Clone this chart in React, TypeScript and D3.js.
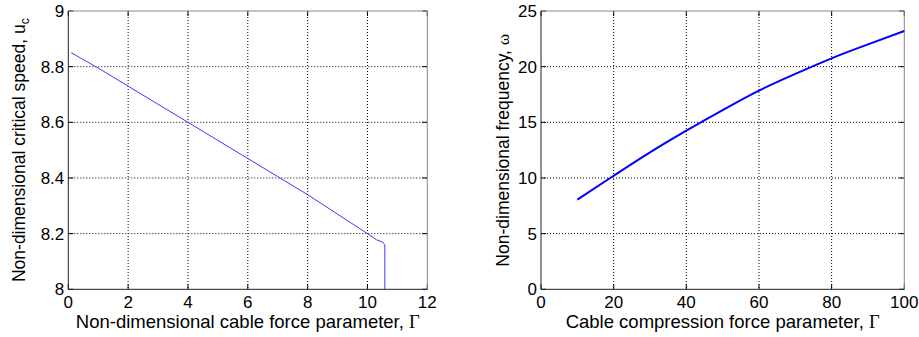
import React from 'react';
import * as d3 from 'd3';

// left panel: critical speed vs cable force
const gammaLeft = [0.1, 1, 2, 3, 4, 5, 6, 7, 8, 9, 10, 10.3, 10.5, 10.58, 10.58];
const speedLeft = [8.85, 8.795, 8.73, 8.665, 8.6, 8.535, 8.47, 8.405, 8.34, 8.27, 8.2, 8.178, 8.17, 8.16, 8.0];

// right panel: frequency vs compression force
const gammaRight = [10, 20, 30, 40, 50, 60, 70, 80, 90, 100];
const freqRight = [8.05, 10.2, 12.3, 14.25, 16.1, 17.85, 19.35, 20.75, 22.0, 23.2];

const leftXTicks = [0, 2, 4, 6, 8, 10, 12];
const leftYTicks = [8, 8.2, 8.4, 8.6, 8.8, 9];
const rightXTicks = [0, 20, 40, 60, 80, 100];
const rightYTicks = [0, 5, 10, 15, 20, 25];

const FONT = 'Liberation Sans, Arial, sans-serif';

type PanelProps = {
  left: number;
  right: number;
  xs: number[];
  ys: number[];
  xDomain: [number, number];
  yDomain: [number, number];
  xTicks: number[];
  yTicks: number[];
  yFmt: (d: number) => string;
  xLabel: string;
  yLabel: React.ReactNode;
  yLabelX: number;
  lineWidth: number;
  lineColor: string;
  smooth?: boolean;
};

function Panel(p: PanelProps) {
  const top = 11;
  const bottom = 289.3;
  const x = d3.scaleLinear().domain(p.xDomain).range([p.left, p.right]);
  const y = d3.scaleLinear().domain(p.yDomain).range([bottom, top]);
  const line = d3.line<number>()
    .x((_, i) => x(p.xs[i]))
    .y(d => y(d))
    .curve(p.smooth ? d3.curveMonotoneX : d3.curveLinear);
  const tick = 5;

  return (
    <g>
      {/* grid */}
      {p.xTicks.slice(1, -1).map(t => (
        <line key={'gx' + t} x1={x(t)} x2={x(t)} y1={top} y2={bottom}
          stroke="#000" strokeWidth={1} strokeDasharray="1,2" />
      ))}
      {p.yTicks.slice(1, -1).map(t => (
        <line key={'gy' + t} x1={p.left} x2={p.right} y1={y(t)} y2={y(t)}
          stroke="#000" strokeWidth={1} strokeDasharray="1,2" />
      ))}
      {/* ticks */}
      {p.xTicks.map(t => (
        <g key={'tx' + t}>
          <line x1={x(t)} x2={x(t)} y1={bottom} y2={bottom - tick} stroke="#000" />
          <line x1={x(t)} x2={x(t)} y1={top} y2={top + tick} stroke="#000" />
          <text x={x(t)} y={308} textAnchor="middle" fontSize={17} fontFamily={FONT}>{t}</text>
        </g>
      ))}
      {p.yTicks.map(t => (
        <g key={'ty' + t}>
          <line x1={p.left} x2={p.left + tick} y1={y(t)} y2={y(t)} stroke="#000" />
          <line x1={p.right} x2={p.right - tick} y1={y(t)} y2={y(t)} stroke="#000" />
          <text x={p.left - 4} y={y(t)} dy="0.35em" textAnchor="end" fontSize={17} fontFamily={FONT}>
            {p.yFmt(t)}
          </text>
        </g>
      ))}
      {/* box */}
      <line x1={p.left} x2={p.right} y1={top} y2={top} stroke="#888" />
      <line x1={p.right} x2={p.right} y1={top} y2={bottom} stroke="#888" />
      <line x1={p.left} x2={p.right} y1={bottom} y2={bottom} stroke="#222" />
      <line x1={p.left} x2={p.left} y1={top} y2={bottom} stroke="#222" />
      {/* data */}
      <path d={line(p.ys) || ''} fill="none" stroke={p.lineColor} strokeWidth={p.lineWidth} />
      {/* labels */}
      <text x={(p.left + p.right) / 2} y={328} textAnchor="middle" fontSize={18.5} fontFamily={FONT}>
        {p.xLabel}
        <tspan fontFamily="Liberation Serif, Times New Roman, serif">{'\u0393'}</tspan>
      </text>
      <text transform={`translate(${p.yLabelX},${(top + bottom) / 2}) rotate(-90)`}
        textAnchor="middle" fontSize={17.5} fontFamily={FONT}>
        {p.yLabel}
      </text>
    </g>
  );
}

export default function App() {
  return (
    <svg width={919} height={337} style={{ position: 'absolute', left: 0, top: 0, background: '#fff' }}>
      <Panel left={68.3} right={427.3} xs={gammaLeft} ys={speedLeft}
        xDomain={[0, 12]} yDomain={[8, 9]} xTicks={leftXTicks} yTicks={leftYTicks}
        yFmt={d => (d === 8 || d === 9 ? String(d) : d.toFixed(1))}
        xLabel="Non-dimensional cable force parameter, "
        yLabel={<>Non-dimensional critical speed, u<tspan fontSize={12} dy="4">c</tspan></>}
        yLabelX={25} lineWidth={1} lineColor="#3a3aff" />
      <Panel left={541} right={904.3} xs={gammaRight} ys={freqRight}
        xDomain={[0, 100]} yDomain={[0, 25]} xTicks={rightXTicks} yTicks={rightYTicks}
        yFmt={d => String(d)}
        xLabel="Cable compression force parameter, "
        yLabel={<>Non-dimensional frequency, <tspan fontFamily="Liberation Serif, serif">ω</tspan></>}
        yLabelX={509} lineWidth={2} lineColor="#0000ff" smooth />
    </svg>
  );
}
